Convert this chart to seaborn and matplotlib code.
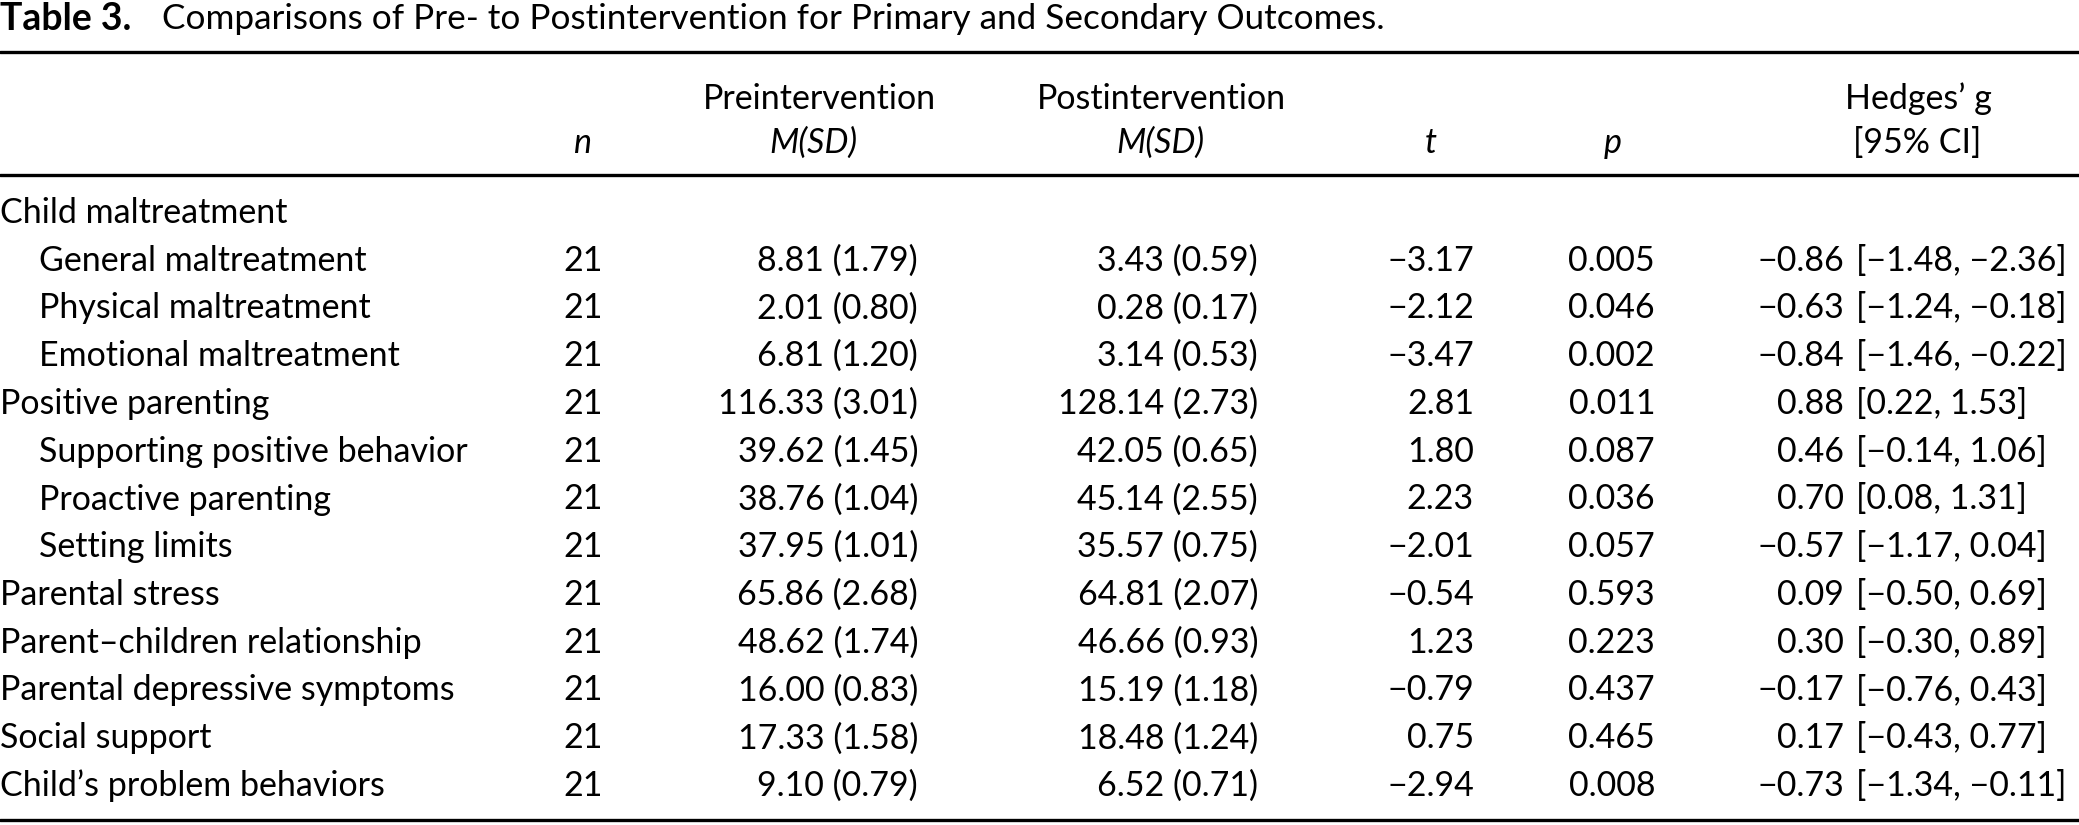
import matplotlib
matplotlib.use("Agg")
import matplotlib.pyplot as plt
import seaborn as sns
import pandas as pd

sns.set_theme(style="white")
plt.rcParams["font.family"] = ["Lato", "DejaVu Sans"]

# table values
outcomes = [
    "Child maltreatment",
    "General maltreatment",
    "Physical maltreatment",
    "Emotional maltreatment",
    "Positive parenting",
    "Supporting positive behavior",
    "Proactive parenting",
    "Setting limits",
    "Parental stress",
    "Parent\u2013children relationship",
    "Parental depressive symptoms",
    "Social support",
    "Child\u2019s problem behaviors",
]
indented = [False, True, True, True, False, True, True, True, False, False, False, False, False]
n_obs = [None, 21, 21, 21, 21, 21, 21, 21, 21, 21, 21, 21, 21]
pre_mean = [None, 8.81, 2.01, 6.81, 116.33, 39.62, 38.76, 37.95, 65.86, 48.62, 16.00, 17.33, 9.10]
pre_sd = [None, 1.79, 0.80, 1.20, 3.01, 1.45, 1.04, 1.01, 2.68, 1.74, 0.83, 1.58, 0.79]
post_mean = [None, 3.43, 0.28, 3.14, 128.14, 42.05, 45.14, 35.57, 64.81, 46.66, 15.19, 18.48, 6.52]
post_sd = [None, 0.59, 0.17, 0.53, 2.73, 0.65, 2.55, 0.75, 2.07, 0.93, 1.18, 1.24, 0.71]
t_vals = [None, -3.17, -2.12, -3.47, 2.81, 1.80, 2.23, -2.01, -0.54, 1.23, -0.79, 0.75, -2.94]
p_vals = [None, 0.005, 0.046, 0.002, 0.011, 0.087, 0.036, 0.057, 0.593, 0.223, 0.437, 0.465, 0.008]
g_vals = [None, -0.86, -0.63, -0.84, 0.88, 0.46, 0.70, -0.57, 0.09, 0.30, -0.17, 0.17, -0.73]
ci_low = [None, -1.48, -1.24, -1.46, 0.22, -0.14, 0.08, -1.17, -0.50, -0.30, -0.76, -0.43, -1.34]
ci_high = [None, -2.36, -0.18, -0.22, 1.53, 1.06, 1.31, 0.04, 0.69, 0.89, 0.43, 0.77, -0.11]

df = pd.DataFrame({
    "outcome": outcomes, "indent": indented, "n": n_obs,
    "pre_m": pre_mean, "pre_sd": pre_sd, "post_m": post_mean, "post_sd": post_sd,
    "t": t_vals, "p": p_vals, "g": g_vals, "lo": ci_low, "hi": ci_high,
})


def fmt(v, d=2):
    return f"{v:.{d}f}".replace("-", "\u2212")


FS = 24.5
ROW_PX = 47.75
TOP_PX = 210

fig = plt.figure(figsize=(20.79, 8.25), dpi=100)
ax = fig.add_axes([0, 0, 1, 1])
ax.set_xlim(0, 2079)
# y in row units, row 0 = first table row
ax.set_ylim((825 - TOP_PX) / ROW_PX, -TOP_PX / ROW_PX)
ax.axis("off")


def row_of(px):
    return (px - TOP_PX) / ROW_PX


def put(x, y, s, ha="left", size=FS, **kw):
    ax.text(x, y, s, ha=ha, va="center_baseline", fontsize=size, color="black", **kw)


# title
put(0, row_of(16), "Table 3.", fontweight="bold", size=27)
put(162, row_of(16), "Comparisons of Pre- to Postintervention for Primary and Secondary Outcomes.", size=25.3)

# rules
for ypx in (52, 175, 820):
    ax.axhline(row_of(ypx), color="black", lw=2.4)

# column headers
h1, h2 = row_of(96), row_of(140)
put(583, h2, "n", ha="center", style="italic")
put(819, h1, "Preintervention", ha="center")
put(813, h2, "M(SD)", ha="center", style="italic")
put(1161, h1, "Postintervention", ha="center")
put(1160, h2, "M(SD)", ha="center", style="italic")
put(1431, h2, "t", ha="center", style="italic")
put(1613, h2, "p", ha="center", style="italic")
put(1918, h1, "Hedges\u2019 g", ha="center")
put(1917, h2, "[95% CI]", ha="center")

# body
for i, r in df.iterrows():
    put(39 if r["indent"] else 0, i, r["outcome"])
    if pd.isna(r["n"]):
        continue
    put(583, i, f"{int(r['n'])}", ha="center")
    put(918, i, f"{fmt(r['pre_m'])} ({fmt(r['pre_sd'])})", ha="right")
    put(1258, i, f"{fmt(r['post_m'])} ({fmt(r['post_sd'])})", ha="right")
    put(1474, i, fmt(r["t"]), ha="right")
    put(1655, i, fmt(r["p"], 3), ha="right")
    put(1844, i, fmt(r["g"]), ha="right")
    put(1856, i, f"[{fmt(r['lo'])}, {fmt(r['hi'])}]")

fig.savefig("out.png", dpi=100)
